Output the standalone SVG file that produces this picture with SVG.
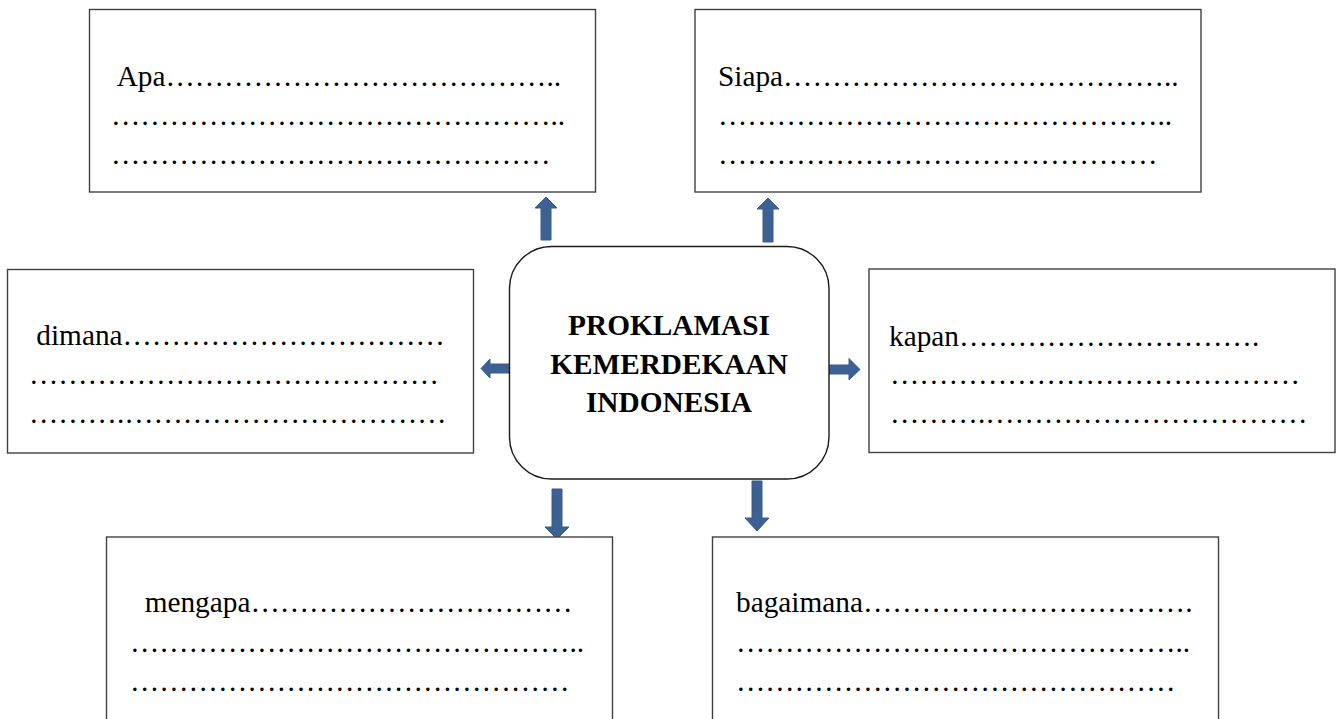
<svg xmlns="http://www.w3.org/2000/svg" width="1338" height="719" viewBox="0 0 1338 719">
<style>
.box{fill:#fff;stroke:#404040;stroke-width:1.4}
.core{fill:#fff;stroke:#1a1a1a;stroke-width:1.4}
.t{font-family:"Liberation Serif","Times New Roman",serif;font-size:29.3px;fill:#000;white-space:pre}
.b{font-family:"Liberation Serif","Times New Roman",serif;font-size:29.3px;font-weight:bold;fill:#000;text-anchor:middle}
.arr{fill:#3D6192;stroke:#385D8A;stroke-width:1}
</style>
<rect width="1338" height="719" fill="#fff"/>
<g id="connectors">
<polygon class="arr" points="541,240 541,208 535,208 546,197 557,208 551,208 551,240"/>
<polygon class="arr" points="763,242 763,209 757,209 768,198 779,209 773,209 773,242"/>
<polygon class="arr" points="511,364 490,364 490,359 481,368.5 490,378 490,373 511,373"/>
<polygon class="arr" points="827,365 849,365 849,358.5 860,369.5 849,380 849,374 827,374"/>
<polygon class="arr" points="552,489 562,489 562,527 569,527 557,539 545,527 552,527"/>
<polygon class="arr" points="752,481 762,481 762,518 769,518 757,531 745,518 752,518"/>
</g>
<g id="center">
<rect class="core" x="509.5" y="246.5" width="319.5" height="232.5" rx="42" ry="42"/>
<text class="b" x="669" y="335">PROKLAMASI</text>
<text class="b" x="669" y="373.5">KEMERDEKAAN</text>
<text class="b" x="669" y="412">INDONESIA</text>
</g>
<g id="apa">
<rect class="box" x="89.5" y="9.5" width="506" height="182.5"/>
<text class="t" x="111" y="86" xml:space="preserve"> Apa&#8230;&#8230;&#8230;&#8230;&#8230;&#8230;&#8230;&#8230;&#8230;&#8230;&#8230;&#8230;&#8230;..</text>
<text class="t" x="111" y="124.5">&#8230;&#8230;&#8230;&#8230;&#8230;&#8230;&#8230;&#8230;&#8230;&#8230;&#8230;&#8230;&#8230;&#8230;&#8230;..</text>
<text class="t" x="111" y="163.5">&#8230;&#8230;&#8230;&#8230;&#8230;&#8230;&#8230;&#8230;&#8230;&#8230;&#8230;&#8230;&#8230;&#8230;&#8230;</text>
</g>
<g id="siapa">
<rect class="box" x="695" y="9.5" width="506" height="182.5"/>
<text class="t" x="718" y="86">Siapa&#8230;&#8230;&#8230;&#8230;&#8230;&#8230;&#8230;&#8230;&#8230;&#8230;&#8230;&#8230;&#8230;..</text>
<text class="t" x="718" y="124.5">&#8230;&#8230;&#8230;&#8230;&#8230;&#8230;&#8230;&#8230;&#8230;&#8230;&#8230;&#8230;&#8230;&#8230;&#8230;..</text>
<text class="t" x="718" y="163.5">&#8230;&#8230;&#8230;&#8230;&#8230;&#8230;&#8230;&#8230;&#8230;&#8230;&#8230;&#8230;&#8230;&#8230;&#8230;</text>
</g>
<g id="dimana">
<rect class="box" x="7.5" y="269.5" width="466" height="183.5"/>
<text class="t" x="29" y="345" xml:space="preserve"> dimana&#8230;&#8230;&#8230;&#8230;&#8230;&#8230;&#8230;&#8230;&#8230;&#8230;&#8230;</text>
<text class="t" x="29" y="384">&#8230;&#8230;&#8230;&#8230;&#8230;&#8230;&#8230;&#8230;&#8230;&#8230;&#8230;&#8230;&#8230;&#8230;</text>
<text class="t" x="29" y="423">&#8230;&#8230;&#8230;.&#8230;&#8230;&#8230;&#8230;&#8230;&#8230;&#8230;&#8230;&#8230;&#8230;&#8230;</text>
</g>
<g id="kapan">
<rect class="box" x="869" y="269" width="466" height="183.5"/>
<text class="t" x="889" y="345.5">kapan&#8230;&#8230;&#8230;&#8230;&#8230;&#8230;&#8230;&#8230;&#8230;&#8230;.</text>
<text class="t" x="890" y="384">&#8230;&#8230;&#8230;&#8230;&#8230;&#8230;&#8230;&#8230;&#8230;&#8230;&#8230;&#8230;&#8230;&#8230;</text>
<text class="t" x="890" y="423">&#8230;&#8230;&#8230;.&#8230;&#8230;&#8230;&#8230;&#8230;&#8230;&#8230;&#8230;&#8230;&#8230;&#8230;</text>
</g>
<g id="mengapa">
<rect class="box" x="106.5" y="537" width="506" height="190"/>
<text class="t" x="130" y="612" xml:space="preserve">  mengapa&#8230;&#8230;&#8230;&#8230;&#8230;&#8230;&#8230;&#8230;&#8230;&#8230;&#8230;</text>
<text class="t" x="130" y="651.5">&#8230;&#8230;&#8230;&#8230;&#8230;&#8230;&#8230;&#8230;&#8230;&#8230;&#8230;&#8230;&#8230;&#8230;&#8230;..</text>
<text class="t" x="130" y="690.5">&#8230;&#8230;&#8230;&#8230;&#8230;&#8230;&#8230;&#8230;&#8230;&#8230;&#8230;&#8230;&#8230;&#8230;&#8230;</text>
</g>
<g id="bagaimana">
<rect class="box" x="712.5" y="537" width="506" height="190"/>
<text class="t" x="736" y="612">bagaimana&#8230;&#8230;&#8230;&#8230;&#8230;&#8230;&#8230;&#8230;&#8230;&#8230;&#8230;.</text>
<text class="t" x="736" y="651.5">&#8230;&#8230;&#8230;&#8230;&#8230;&#8230;&#8230;&#8230;&#8230;&#8230;&#8230;&#8230;&#8230;&#8230;&#8230;..</text>
<text class="t" x="736" y="690.5">&#8230;&#8230;&#8230;&#8230;&#8230;&#8230;&#8230;&#8230;&#8230;&#8230;&#8230;&#8230;&#8230;&#8230;&#8230;</text>
</g>
</svg>
